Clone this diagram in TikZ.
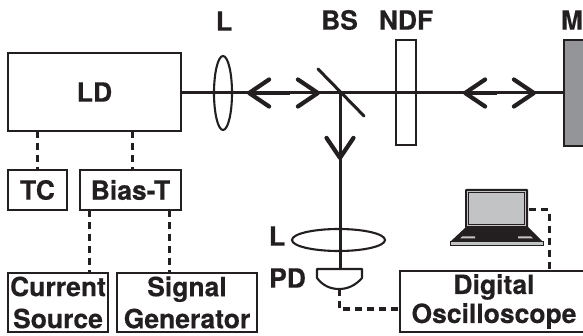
\documentclass[tikz,border=0pt]{standalone}
\usepackage{fontspec}
\setmainfont{TeX Gyre Heros}[BoldFeatures={FakeBold=0.35}]
\usepackage{tikz}
\usetikzlibrary{arrows.meta,shapes.geometric}

\definecolor{mirrorgray}{HTML}{939598}
\definecolor{screengray}{HTML}{C2C3C5}
\definecolor{inkblack}{HTML}{231F20}

\begin{document}
\begin{tikzpicture}[x=1pt,y=-1pt,color=inkblack]
  \tikzstyle{every node}=[font=\fontsize{26.5}{32}\selectfont\bfseries, inner sep=0pt, outer sep=0pt]
  \tikzstyle{box}=[draw, line width=2.1pt, align=center]
  \tikzstyle{beam}=[line width=3pt]
  \tikzstyle{wire}=[line width=3pt, dash pattern=on 7pt off 5pt]
  \tikzstyle{barb}=[line width=3pt, -{Straight Barb[length=20pt,width=27pt,line width=4.2pt,round]}]

  \useasboundingbox (0,0) rectangle (583,336);

  % Specification of nodes (position, etc.)
  \node[box, minimum width=173pt, minimum height=78pt] (LD) at (94.5,92) {LD};
  \node[box, minimum width=59pt, minimum height=40pt] (TC) at (37.5,190) {TC};
  \node[box, minimum width=101pt, minimum height=40pt] (BiasT) at (130.5,190) {Bias-T};
  \node[box, minimum width=100pt, minimum height=59pt] (Current) at (58,302.5) {Current\\Source};
  \node[box, minimum width=140pt, minimum height=59pt] (Signal) at (187,302.5) {Signal\\Generator};
  \node[box, minimum width=188pt, minimum height=61pt] (Scope) at (494,301.5) {Digital\\[-3pt]Oscilloscope};
  \node[box, minimum width=20pt, minimum height=105pt] (NDF) at (406,92.5) {};
  \node[box, fill=mirrorgray, minimum width=36pt, minimum height=106pt] (Mirror) at (582,93) {};
  \node[draw, ellipse, line width=2.1pt, minimum width=18pt, minimum height=74pt] (LensA) at (223,93) {};
  \node[draw, ellipse, line width=2.1pt, minimum width=93pt, minimum height=22pt] (LensB) at (338.5,240) {};

  \node (labLA) at (224,21) {L};
  \node (labBS) at (339.5,20) {BS};
  \node (labNDF) at (406,20) {NDF};
  \node[anchor=east] (labM) at (583,20) {M};
  \node (labLB) at (277,236) {L};
  \node (labPD) at (287.5,278) {PD};

  \coordinate (BS) at (340,93);
  \coordinate (BSa) at (318,69);
  \coordinate (BSb) at (364,116);
  \coordinate (PDtop) at (340,269);
  \coordinate (PDbot) at (339,289);
  \coordinate (corner) at (339,309);
  \coordinate (PCport) at (529,210);
  \coordinate (PCturn) at (549,210);
  \coordinate (tipA) at (247,93);
  \coordinate (tipB) at (320,93);
  \coordinate (tipC) at (463,93);
  \coordinate (tipD) at (536,93);
  \coordinate (tipE) at (340,160);

  % Beams
  \draw[beam] (LD.east |- BS) -- (Mirror.west |- BS);
  \draw[beam] (BS) -- (PDtop);
  \draw[line width=3pt, line cap=round] (BSa) -- (BSb);
  \draw[barb, line width=4.5pt] (290,93) -- (tipA);
  \draw[barb] (290,93) -- (tipB);
  \draw[barb, line width=4.5pt] (497,93) -- (tipC);
  \draw[barb] (497,93) -- (tipD);
  \draw[barb] (BS) -- (tipE);

  % Photodiode
  \draw[line width=2.1pt, line join=round] (317,269) -- (362,269) -- (362,278)
    .. controls (355,286) and (347,289) .. (PDbot)
    .. controls (331,289) and (323,286) .. (317,278) -- cycle;

  % Laptop
  \fill[rounded corners=1pt] (465,189) rectangle (528,228);
  \draw[screengray, line width=0.8pt] (467.5,191.5) rectangle (525.5,225.5);
  \fill[screengray] (469,193) rectangle (524,224);
  \fill (466,227) -- (528,227) -- (543,242) -- (450,242) -- cycle;
  \draw[line width=1pt, fill=screengray] (450,242) rectangle (543,246);
  \fill[screengray] (462,236.5) -- (475,236.5) -- (475,238.5) -- (460,238.5) -- cycle;
  \fill[screengray] (518,236.5) -- (531,236.5) -- (533,238.5) -- (518,238.5) -- cycle;

  % Electrical connections
  \begin{scope}[wire]
    \draw (LD.south -| TC) -- (TC);
    \draw (LD.south -| BiasT) ++(1.5,0) -- ++(0,39);
    \draw (89,210) -- (89,273);
    \draw (169,210) -- (169,273);
    \draw (PDbot) -- (corner) -- (Scope.west |- corner);
    \draw (PCport) -- (PCturn) -- (PCturn |- Scope.north);
  \end{scope}
\end{tikzpicture}
\end{document}
